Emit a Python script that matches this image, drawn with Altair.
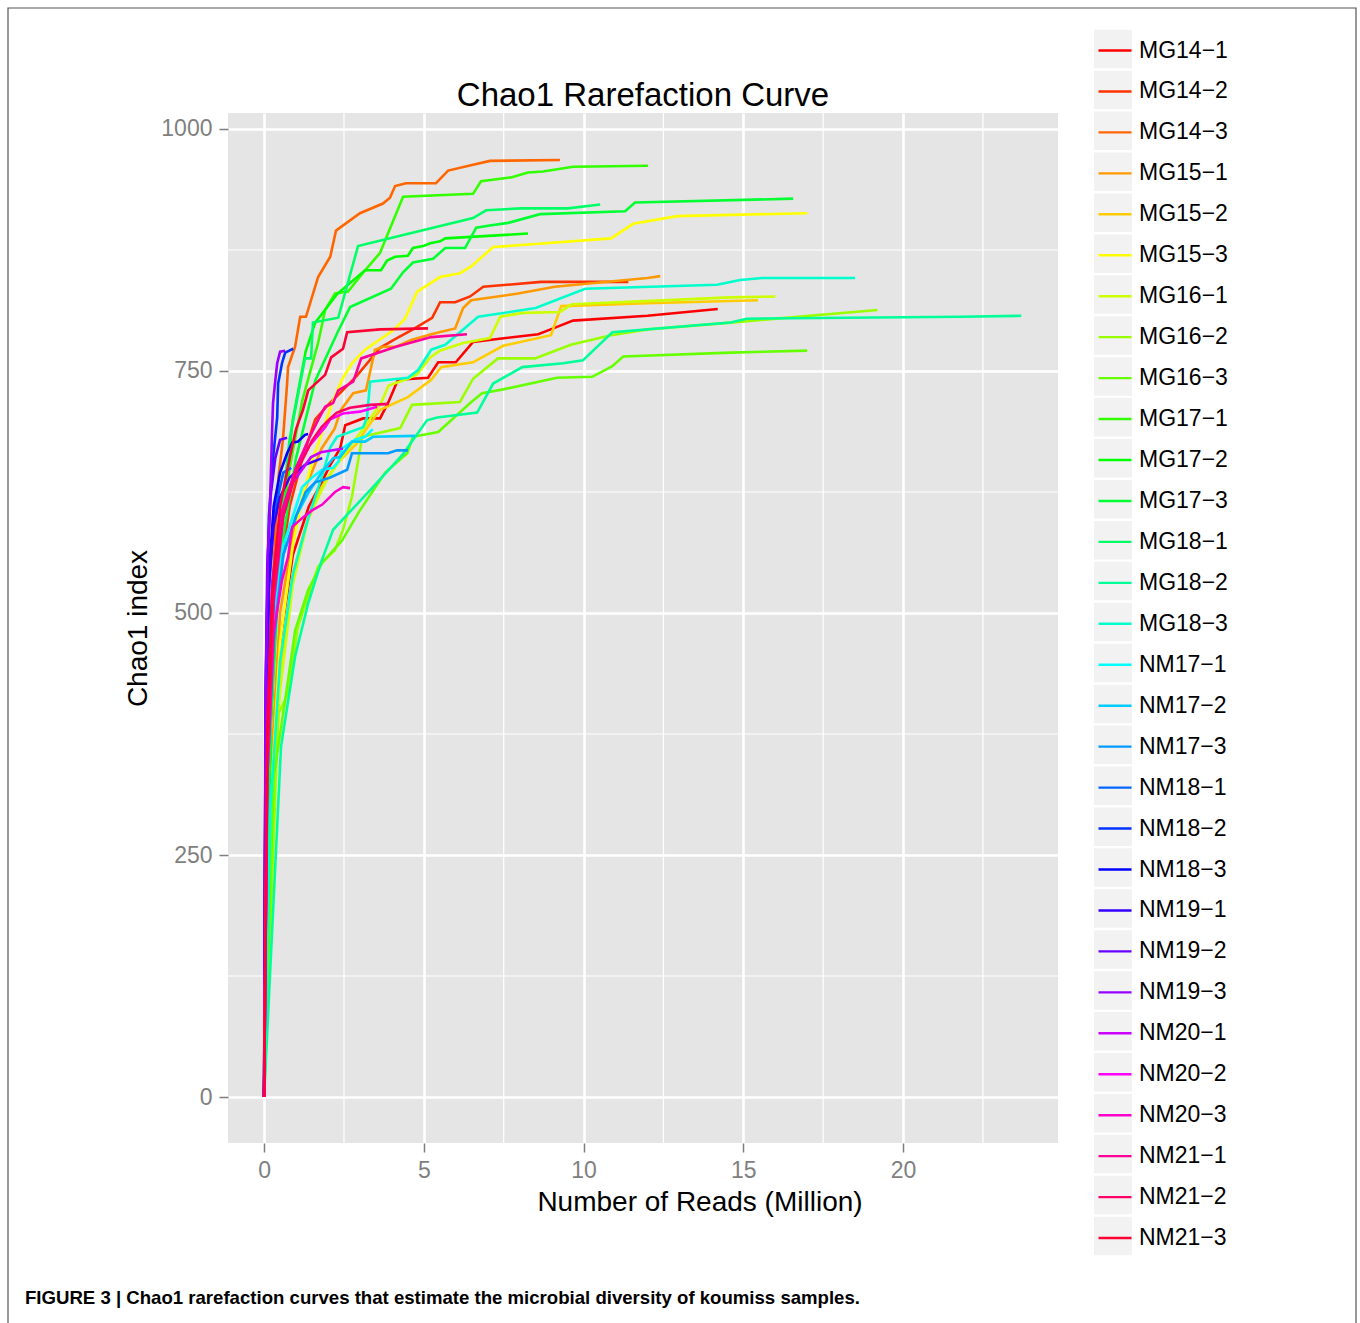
import altair as alt
import pandas as pd

# ---------------- data ----------------
names = ["MG14−1", "MG14−2", "MG14−3", "MG15−1", "MG15−2", "MG15−3",
         "MG16−1", "MG16−2", "MG16−3", "MG17−1", "MG17−2", "MG17−3",
         "MG18−1", "MG18−2", "MG18−3", "NM17−1", "NM17−2", "NM17−3",
         "NM18−1", "NM18−2", "NM18−3", "NM19−1", "NM19−2", "NM19−3",
         "NM20−1", "NM20−2", "NM20−3", "NM21−1", "NM21−2", "NM21−3"]

colors = ["#FF0000", "#FF3300", "#FF6600", "#FF9900", "#FFCC00", "#FFFF00",
          "#CCFF00", "#99FF00", "#66FF00", "#33FF00", "#00FF00", "#00FF33",
          "#00FF66", "#00FF99", "#00FFCC", "#00FFFF", "#00CCFF", "#0099FF",
          "#0066FF", "#0033FF", "#0000FF", "#3300FF", "#6600FF", "#9900FF",
          "#CC00FF", "#FF00FF", "#FF00CC", "#FF0099", "#FF0066", "#FF0033"]

MG14_1_x = [0, 0.2, 0.5, 0.9, 1.4, 1.8, 2.07, 2.38, 2.54, 3.1, 3.63, 3.88, 4.19, 5.13, 5.45, 6.0, 6.54, 8.58, 9.05, 9.67, 12.0, 14.2]
MG14_1_y = [0, 300, 470, 560, 610, 635, 653, 670, 694, 701, 701, 717, 741, 743, 759, 759, 780, 788, 794, 802, 807, 814]
MG14_2_x = [0, 0.15, 0.4, 0.8, 1.2, 1.6, 2.0, 2.4, 2.9, 3.63, 4.1, 4.66, 5.26, 5.51, 5.98, 6.45, 6.86, 8.67, 11.4]
MG14_2_y = [0, 350, 520, 610, 660, 700, 715, 728, 745, 774, 783, 793, 805, 821, 821, 827, 837, 842, 842]
MG14_3_x = [0, 0.1, 0.25, 0.45, 0.59, 0.72, 0.75, 0.97, 1.13, 1.31, 1.69, 2.07, 2.25, 3.0, 3.72, 3.94, 4.1, 4.44, 5.38, 5.76, 6.54, 7.07, 9.26]
MG14_3_y = [0, 350, 520, 640, 679, 737, 754, 775, 806, 806, 847, 868, 895, 913, 923, 929, 941, 944, 944, 957, 963, 967, 968]
MG15_1_x = [0, 0.2, 0.5, 0.9, 1.3, 1.8, 2.2, 2.41, 2.79, 3.19, 3.47, 3.72, 4.13, 4.6, 5.23, 5.98, 6.23, 6.48, 7.95, 9.1, 12.0, 12.4]
MG15_1_y = [0, 330, 500, 580, 630, 670, 690, 710, 727, 730, 772, 775, 775, 782, 788, 794, 815, 823, 830, 837, 846, 848]
MG15_2_x = [0, 0.2, 0.5, 0.9, 1.3, 1.8, 2.3, 2.9, 3.2, 3.63, 4.5, 5.23, 5.54, 6.54, 7.48, 8.98, 9.3, 12.0, 15.46]
MG15_2_y = [0, 280, 430, 540, 590, 630, 655, 675, 690, 710, 723, 741, 754, 759, 776, 787, 817, 820, 823]
MG15_3_x = [0, 0.2, 0.5, 0.9, 1.2, 1.44, 1.53, 1.66, 1.91, 2.13, 2.44, 2.75, 3.16, 4.04, 4.41, 4.79, 5.51, 6.13, 6.48, 7.17, 10.86, 11.55, 12.93, 17.0]
MG15_3_y = [0, 300, 470, 570, 620, 648, 661, 671, 696, 717, 741, 758, 772, 792, 804, 832, 847, 851, 858, 878, 887, 902, 910, 913]
MG16_1_x = [0, 0.2, 0.5, 0.9, 1.4, 2.0, 2.6, 3.1, 3.66, 3.9, 4.5, 4.8, 5.2, 5.5, 6.23, 7.07, 7.39, 8.1, 9.26, 9.64, 14.6, 16.0]
MG16_1_y = [0, 250, 420, 530, 600, 640, 668, 690, 717, 735, 742, 747, 764, 771, 779, 784, 806, 810, 811, 819, 826, 827]
MG16_2_x = [0, 0.44, 0.75, 1.06, 1.69, 2.22, 2.47, 2.75, 3.07, 4.26, 4.63, 6.13, 6.54, 7.32, 8.48, 9.6, 10.86, 12.0, 14.6, 19.2]
MG16_2_y = [0, 395, 417, 486, 548, 565, 586, 620, 682, 691, 715, 718, 742, 763, 763, 777, 787, 793, 800, 813]
MG16_3_x = [0, 0.3, 0.75, 0.97, 1.38, 1.82, 2.44, 3.0, 3.79, 4.48, 4.66, 5.45, 6.45, 6.82, 7.48, 9.17, 10.27, 10.9, 11.24, 14.6, 17.0]
MG16_3_y = [0, 330, 431, 482, 524, 552, 575, 606, 645, 665, 682, 687, 717, 727, 731, 743, 744, 755, 765, 769, 771]
MG17_1_x = [0, 0.15, 0.4, 0.8, 1.2, 1.69, 1.91, 2.22, 2.63, 3.16, 3.63, 3.79, 4.35, 6.54, 6.79, 7.73, 8.26, 8.73, 9.67, 12.02]
MG17_1_y = [0, 350, 550, 650, 720, 779, 813, 830, 832, 854, 872, 885, 930, 933, 946, 950, 955, 956, 961, 962]
MG17_2_x = [0, 0.2, 0.5, 0.9, 1.3, 1.6, 2.3, 3.16, 3.66, 3.85, 4.1, 4.5, 4.66, 4.98, 5.2, 5.51, 5.67, 8.26]
MG17_2_y = [0, 380, 580, 700, 770, 800, 830, 854, 854, 864, 868, 869, 877, 879, 882, 884, 887, 892]
MG17_3_x = [0, 0.2, 0.5, 1.0, 1.6, 2.3, 2.69, 3.97, 4.35, 4.66, 5.29, 5.67, 6.29, 6.64, 7.01, 7.64, 8.64, 11.3, 11.61, 16.56]
MG17_3_y = [0, 380, 560, 660, 740, 790, 816, 835, 852, 862, 866, 877, 877, 898, 900, 903, 912, 915, 924, 928]
MG18_1_x = [0, 0.15, 0.4, 0.8, 1.28, 1.47, 1.53, 2.32, 2.94, 4.29, 6.54, 6.95, 8.04, 9.51, 10.52]
MG18_1_y = [0, 380, 560, 680, 763, 763, 800, 805, 879, 890, 908, 916, 918, 918, 922]
MG18_2_x = [0, 0.53, 0.97, 1.38, 1.78, 2.16, 3.32, 4.32, 5.1, 5.42, 6.67, 7.17, 8.08, 9.36, 9.98, 10.9, 14.6, 15.1, 21.8, 23.7]
MG18_2_y = [0, 362, 455, 510, 552, 586, 627, 663, 699, 702, 707, 737, 754, 758, 761, 790, 800, 804, 806, 807]
MG18_3_x = [0, 0.2, 0.5, 0.9, 1.4, 1.8, 2.07, 2.28, 3.1, 3.22, 3.32, 4.5, 4.82, 5.23, 5.67, 6.7, 8.5, 10.05, 14.18, 14.9, 15.6, 18.5]
MG18_3_y = [0, 300, 450, 540, 600, 640, 671, 682, 692, 702, 739, 743, 751, 772, 777, 806, 815, 835, 839, 844, 846, 846]
NM17_1_x = [0, 0.1, 0.3, 0.6, 1.0, 1.19, 1.5, 1.82, 2.16, 2.32, 2.44, 2.85, 3.16, 3.4]
NM17_1_y = [0, 330, 490, 570, 610, 630, 640, 648, 650, 656, 670, 679, 682, 690]
NM17_2_x = [0, 0.1, 0.3, 0.6, 1.0, 1.4, 1.8, 2.16, 2.38, 2.75, 3.16, 3.41, 4.73]
NM17_2_y = [0, 330, 480, 560, 600, 625, 645, 660, 661, 677, 677, 682, 683]
NM17_3_x = [0, 0.1, 0.3, 0.6, 1.0, 1.3, 1.6, 1.8, 2.07, 2.6, 2.75, 3.88, 4.16, 4.5]
NM17_3_y = [0, 330, 470, 560, 600, 625, 635, 637, 640, 648, 665, 665, 668, 668]
NM18_1_x = [0, 0.05, 0.15, 0.3, 0.5, 0.6, 0.85]
NM18_1_y = [0, 350, 520, 600, 630, 645, 650]
NM18_2_x = [0, 0.05, 0.15, 0.28, 0.41, 0.44, 0.56, 0.66, 0.91]
NM18_2_y = [0, 420, 600, 660, 702, 737, 758, 769, 773]
NM18_3_x = [0, 0.05, 0.15, 0.3, 0.5, 0.72, 0.88, 1.06, 1.28, 1.38]
NM18_3_y = [0, 380, 540, 610, 645, 665, 676, 677, 684, 685]
NM19_1_x = [0, 0.05, 0.15, 0.3, 0.5, 0.8, 1.28, 1.82]
NM19_1_y = [0, 370, 530, 590, 620, 640, 653, 660]
NM19_2_x = [0, 0.04, 0.1, 0.2, 0.35, 0.5, 0.72]
NM19_2_y = [0, 400, 550, 620, 660, 679, 681]
NM19_3_x = [0, 0.05, 0.12, 0.19, 0.25, 0.28, 0.34, 0.41, 0.5, 0.66]
NM19_3_y = [0, 420, 560, 616, 689, 717, 737, 758, 770, 771]
NM20_1_x = [0, 0.1, 0.25, 0.5, 0.9, 1.47, 1.78, 2.47]
NM20_1_y = [0, 380, 530, 600, 635, 661, 666, 670]
NM20_2_x = [0, 0.1, 0.3, 0.6, 1.0, 1.4, 1.91, 2.07, 2.47, 3.0, 3.54]
NM20_2_y = [0, 350, 510, 600, 650, 672, 692, 700, 706, 708, 713]
NM20_3_x = [0, 0.1, 0.3, 0.56, 0.75, 0.88, 1.19, 1.5, 1.82, 2.22, 2.47, 2.69]
NM20_3_y = [0, 330, 480, 534, 558, 589, 598, 606, 612, 625, 630, 629]
NM21_1_x = [0, 0.1, 0.3, 0.6, 1.0, 1.4, 1.7, 1.91, 2.16, 2.32, 2.79, 3.04, 4.13, 5.23, 6.35]
NM21_1_y = [0, 350, 520, 610, 650, 680, 700, 713, 717, 730, 739, 763, 775, 785, 788]
NM21_2_x = [0, 0.1, 0.3, 0.6, 1.0, 1.5, 1.8, 2.07, 2.28, 2.69, 3.32, 3.9]
NM21_2_y = [0, 350, 520, 600, 645, 678, 692, 701, 707, 712, 715, 716]
NM21_3_x = [0, 0.1, 0.25, 0.5, 0.8, 1.0, 1.22, 1.38, 1.91, 2.1, 2.47, 2.6, 3.63, 5.13]
NM21_3_y = [0, 380, 520, 610, 660, 690, 710, 730, 746, 764, 773, 790, 793, 794]

series_x = [MG14_1_x, MG14_2_x, MG14_3_x, MG15_1_x, MG15_2_x, MG15_3_x,
            MG16_1_x, MG16_2_x, MG16_3_x, MG17_1_x, MG17_2_x, MG17_3_x,
            MG18_1_x, MG18_2_x, MG18_3_x, NM17_1_x, NM17_2_x, NM17_3_x,
            NM18_1_x, NM18_2_x, NM18_3_x, NM19_1_x, NM19_2_x, NM19_3_x,
            NM20_1_x, NM20_2_x, NM20_3_x, NM21_1_x, NM21_2_x, NM21_3_x]
series_y = [MG14_1_y, MG14_2_y, MG14_3_y, MG15_1_y, MG15_2_y, MG15_3_y,
            MG16_1_y, MG16_2_y, MG16_3_y, MG17_1_y, MG17_2_y, MG17_3_y,
            MG18_1_y, MG18_2_y, MG18_3_y, NM17_1_y, NM17_2_y, NM17_3_y,
            NM18_1_y, NM18_2_y, NM18_3_y, NM19_1_y, NM19_2_y, NM19_3_y,
            NM20_1_y, NM20_2_y, NM20_3_y, NM21_1_y, NM21_2_y, NM21_3_y]

x_ticks = [0, 5, 10, 15, 20]
y_ticks = [0, 250, 500, 750, 1000]
x_minor = [2.5, 7.5, 12.5, 17.5, 22.5]
y_minor = [125, 375, 625, 875]

title_text = "Chao1 Rarefaction Curve"
x_title = "Number of Reads (Million)"
y_title = "Chao1 index"
caption = "FIGURE 3 | Chao1 rarefaction curves that estimate the microbial diversity of koumiss samples."

# ---------------- layout / style ----------------
W, H = 830, 1030
PAD_L, PAD_T = 228, 113
FONT = "Liberation Sans"
X_DOMAIN = [-1.13, 24.85]
Y_DOMAIN = [-47.5, 1016.5]

rows = []
for k, (name, xs, ys) in enumerate(zip(names, series_x, series_y)):
    for i, (xv, yv) in enumerate(zip(xs, ys)):
        rows.append({"sample": name, "k": k, "i": i, "reads": xv, "chao1": yv})
df = pd.DataFrame(rows)

xscale = alt.Scale(domain=X_DOMAIN, nice=False, zero=False)
yscale = alt.Scale(domain=Y_DOMAIN, nice=False, zero=False)

axis_common = dict(
    labelFont=FONT, labelFontSize=23, labelColor="#7F7F7F",
    titleFont=FONT, titleFontSize=28, titleFontWeight="normal", titleColor="black",
    tickColor="#7F7F7F", tickSize=9, tickWidth=1.5, domain=False,
    grid=True, gridColor="white", gridWidth=2.6, format="d",
)
x_axis = alt.Axis(values=x_ticks, title=x_title, labelPadding=7, titlePadding=6,
                  titleX=471.5, **axis_common)
y_axis = alt.Axis(values=y_ticks, title=y_title, labelPadding=7, titlePadding=8, **axis_common)

minor_x_rules = alt.Chart(pd.DataFrame({"v": x_minor})).mark_rule(
    color="white", strokeWidth=1.2
).encode(x=alt.X("v:Q", scale=xscale, axis=x_axis))

minor_y_rules = alt.Chart(pd.DataFrame({"v": y_minor})).mark_rule(
    color="white", strokeWidth=1.2
).encode(y=alt.Y("v:Q", scale=yscale, axis=None))

# legend key backgrounds (ggplot grey95 boxes)
STEP = 40.93
FIRST = -64.0
d0 = -FIRST / STEP
d1 = d0 + H / STEP
keys = alt.Chart(pd.DataFrame({"sample": names, "pos": list(range(len(names)))})).mark_rect(
    fill="#F2F2F2", height=38.5
).encode(
    x=alt.value(866), x2=alt.value(904),
    y=alt.Y("pos:Q", scale=alt.Scale(domain=[d0, d1], range=[0, H], nice=False, zero=False), axis=None),
)

lines = alt.Chart(df).mark_line(strokeWidth=2.6, clip=True).encode(
    x=alt.X("reads:Q", scale=xscale, axis=x_axis),
    y=alt.Y("chao1:Q", scale=yscale, axis=y_axis),
    color=alt.Color("sample:N", sort=names,
                    scale=alt.Scale(domain=names, range=colors),
                    legend=alt.Legend(title=None, orient="none", legendX=869, legendY=FIRST - 16.5,
                                      symbolType="stroke", symbolSize=1089, symbolStrokeWidth=2.4,
                                      labelFont=FONT, labelFontSize=23, labelColor="black",
                                      labelOffset=6, rowPadding=10.95, padding=0, labelLimit=300)),
    detail="k:N",
    order=alt.Order("i:Q"),
)

one = pd.DataFrame({"t": [caption], "title": [title_text]})
title_mark = alt.Chart(one).mark_text(
    font=FONT, fontSize=33, align="center", baseline="alphabetic", color="black"
).encode(text="title:N", x=alt.value(W / 2), y=alt.value(-7))

cap = alt.Chart(one).mark_text(
    font=FONT, fontSize=18.6, fontWeight="bold",
    align="left", baseline="alphabetic", color="black"
).encode(text="t:N", x=alt.value(25 - PAD_L), y=alt.value(1304 - PAD_T))

frame = alt.Chart(one).mark_rect(fill=None, stroke="#555555", strokeWidth=1.2).encode(
    x=alt.value(8 - PAD_L), x2=alt.value(1356 - PAD_L),
    y=alt.value(8 - PAD_T), y2=alt.value(1340 - PAD_T),
)

chart = alt.layer(minor_x_rules, minor_y_rules, keys, lines, title_mark, cap, frame).resolve_scale(
    y="independent"
).properties(
    width=W, height=H,
    background="white",
    autosize=alt.AutoSizeParams(type="none"),
    padding={"left": PAD_L, "top": PAD_T, "right": 1360 - PAD_L - W, "bottom": 1323 - PAD_T - H},
).configure_view(fill="#E5E5E5", stroke=None)

chart.save("out.html", embed_options={"renderer": "svg", "actions": False})
